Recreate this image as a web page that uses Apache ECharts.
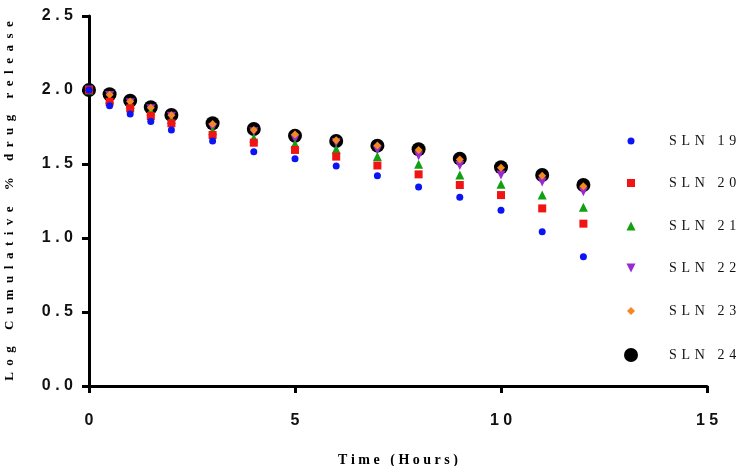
<!DOCTYPE html>
<html>
<head>
<meta charset="utf-8">
<script src="https://cdn.jsdelivr.net/npm/echarts@6/dist/echarts.min.js"></script>
<style>
  html, body { margin: 0; padding: 0; background: #fff; }
  #chart { width: 745px; height: 466px; }
</style>
</head>
<body>
<div id="chart"></div>
<script>
// time points (hours)
const time = [0, 0.5, 1, 1.5, 2, 3, 4, 5, 6, 7, 8, 9, 10, 11, 12];
// log cumulative % drug release
const sln19 = [2.0, 1.894, 1.838, 1.788, 1.73, 1.655, 1.583, 1.536, 1.486, 1.42, 1.345, 1.275, 1.187, 1.043, 0.874];
const sln20 = [2.0, 1.92, 1.876, 1.824, 1.775, 1.696, 1.644, 1.595, 1.55, 1.49, 1.43, 1.358, 1.29, 1.2, 1.097];
const sln21 = [2.0, 1.937, 1.905, 1.858, 1.8, 1.725, 1.675, 1.635, 1.6, 1.55, 1.498, 1.425, 1.363, 1.29, 1.207];
const sln22 = [2.0, 1.962, 1.914, 1.874, 1.822, 1.745, 1.718, 1.669, 1.646, 1.595, 1.556, 1.49, 1.426, 1.378, 1.313];
const sln23 = [2.0, 1.968, 1.922, 1.88, 1.83, 1.77, 1.73, 1.7, 1.66, 1.625, 1.595, 1.53, 1.475, 1.42, 1.35];
const sln24 = [2.0, 1.971, 1.928, 1.883, 1.831, 1.775, 1.736, 1.691, 1.655, 1.624, 1.6, 1.536, 1.478, 1.426, 1.358];

const seriesNames = ['SLN 19', 'SLN 20', 'SLN 21', 'SLN 22', 'SLN 23', 'SLN 24'];
const seriesValues = [sln19, sln20, sln21, sln22, sln23, sln24];
const xTicks = [0, 5, 10, 15];
const yTicks = [0, 0.5, 1, 1.5, 2, 2.5];

// marker look per series
const looks = [
  { symbol: 'circle', size: 7, color: '#0a14f5', rotate: 0, z: 8 },
  { symbol: 'rect', size: 8, color: '#f01414', rotate: 0, z: 7 },
  { symbol: 'triangle', size: 9, color: '#12a012', rotate: 0, z: 6 },
  { symbol: 'triangle', size: 9, color: '#9a2ad0', rotate: 180, z: 5 },
  { symbol: 'diamond', size: 8, color: '#f5881e', rotate: 0, z: 6 },
  { symbol: 'circle', size: 14, color: '#000000', rotate: 0, z: 2 }
];
// legend icons (the down triangle needs its own path)
const legendIcons = ['circle', 'rect', 'triangle', 'path://M0,0 L10,0 L5,10 Z', 'diamond', 'circle'];
const legendY = [142, 184, 227, 269, 312, 356];
const iconX = 631;
const textX = 669;

// spread letters out like the original
const spaced = (s, sep) => s.split('').join(sep);

const chart = echarts.init(document.getElementById('chart'));

const series = seriesNames.map((name, i) => ({
  name: name,
  type: 'scatter',
  data: time.map((t, j) => [t, seriesValues[i][j]]),
  symbol: looks[i].symbol,
  symbolSize: looks[i].size,
  symbolRotate: looks[i].rotate,
  itemStyle: { color: looks[i].color, opacity: 1 },
  z: looks[i].z
}));

const legends = seriesNames.map((name, i) => {
  const s = looks[i].size;
  const left = iconX - s / 2;
  return {
    data: [{ name: name, icon: legendIcons[i], itemStyle: { color: looks[i].color } }],
    orient: 'vertical',
    left: left,
    top: legendY[i] - 8,
    padding: 0,
    itemWidth: s,
    itemHeight: s,
    selectedMode: false,
    formatter: n => spaced(n, '\u2004'),
    textStyle: {
      fontFamily: 'Liberation Serif',
      fontSize: 14,
      color: '#111',
      padding: [0, 0, 0, textX - (left + s + 5)]
    }
  };
});

chart.setOption({
  animation: false,
  backgroundColor: '#fff',
  grid: { left: 89, right: 38, top: 16, bottom: 80, outerBoundsMode: 'none', containLabel: false },
  legend: legends,
  xAxis: {
    type: 'value',
    min: 0,
    max: 15,
    interval: 5,
    name: spaced('Time (Hours)', '\u2005'),
    nameLocation: 'middle',
    nameGap: 67,
    nameTextStyle: {
      fontFamily: 'Liberation Serif',
      fontWeight: 'bold',
      fontSize: 14,
      color: '#000'
    },
    axisLine: { show: true, lineStyle: { color: '#000', width: 3 } },
    axisTick: { show: true, length: 7, lineStyle: { color: '#000', width: 3 } },
    splitLine: { show: false },
    axisLabel: {
      margin: 27,
      fontFamily: 'Liberation Sans',
      fontWeight: 'bold',
      fontSize: 16,
      color: '#111',
      formatter: v => xTicks.includes(v) ? spaced(String(v), ' ') : ''
    }
  },
  yAxis: {
    type: 'value',
    min: 0,
    max: 2.5,
    interval: 0.5,
    name: spaced('Log Cumulative % drug release', '\u2002'),
    nameLocation: 'middle',
    nameGap: 73,
    nameTextStyle: {
      fontFamily: 'Liberation Serif',
      fontWeight: 'bold',
      fontSize: 13,
      color: '#000'
    },
    axisLine: { show: true, lineStyle: { color: '#000', width: 3 } },
    axisTick: { show: true, length: 7, lineStyle: { color: '#000', width: 3 } },
    splitLine: { show: false },
    axisLabel: {
      margin: 16,
      fontFamily: 'Liberation Sans',
      fontWeight: 'bold',
      fontSize: 16,
      color: '#111',
      formatter: v => yTicks.includes(v) ? spaced(v.toFixed(1), ' ') : ''
    }
  },
  series: series
});
</script>
</body>
</html>
